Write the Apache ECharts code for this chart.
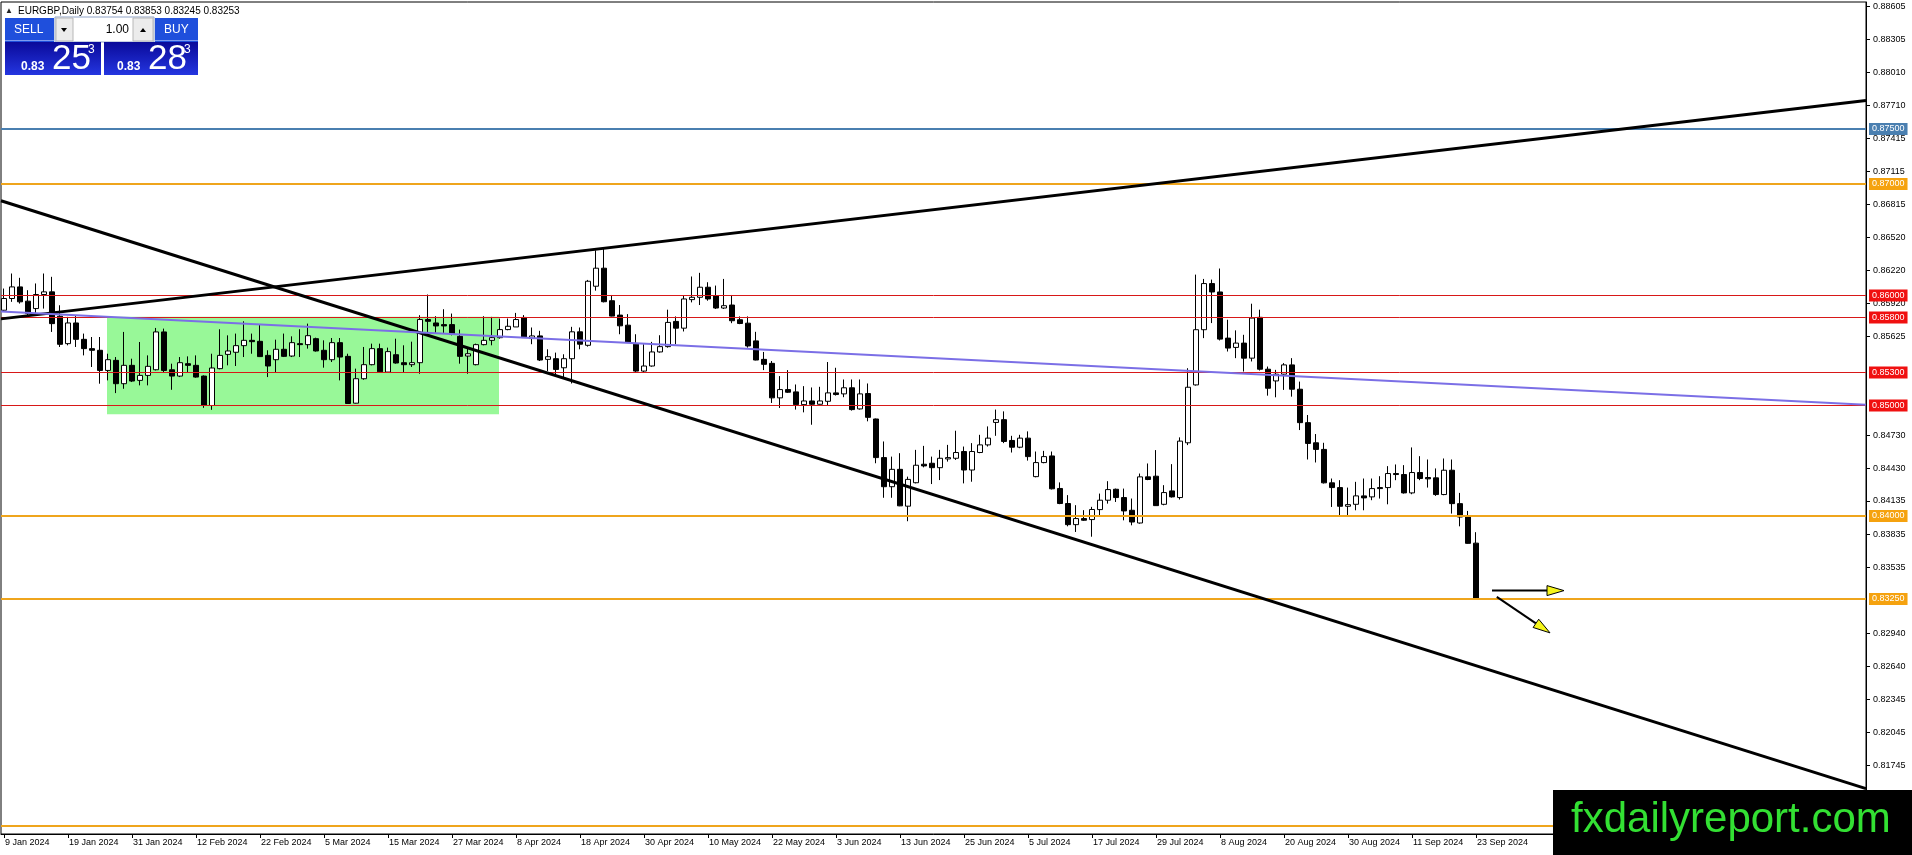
<!DOCTYPE html>
<html><head><meta charset="utf-8">
<script src="https://cdn.jsdelivr.net/npm/echarts@6.0.0/dist/echarts.min.js"></script>
<style>html,body{margin:0;padding:0;background:#fff}#c{width:1912px;height:855px}</style>
</head><body><div id="c"></div>
<script>
// ---- data (bar index 0 = 9 Jan 2024, one bar per trading day) ----
const opens=[0.85859,0.85965,0.86070,0.85941,0.85874,0.86001,0.86025,0.85805,0.85557,0.85744,0.85596,0.85512,0.85497,0.85315,0.85406,0.85195,0.85361,0.85225,0.85270,0.85321,0.85663,0.85321,0.85264,0.85376,0.85361,0.85264,0.84998,0.85331,0.85460,0.85479,0.85539,0.85587,0.85578,0.85451,0.85412,0.85506,0.85445,0.85557,0.85548,0.85602,0.85497,0.85412,0.85566,0.85442,0.85019,0.85240,0.85367,0.85512,0.85300,0.85457,0.85385,0.85367,0.85385,0.85775,0.85744,0.85729,0.85729,0.85623,0.85445,0.85367,0.85548,0.85587,0.85611,0.85684,0.85708,0.85794,0.85603,0.85627,0.85415,0.85421,0.85339,0.85421,0.85664,0.85542,0.86076,0.86239,0.85945,0.85815,0.85724,0.85552,0.85309,0.85355,0.85482,0.85530,0.85758,0.85697,0.85955,0.85976,0.86067,0.85991,0.85879,0.85906,0.85773,0.85742,0.85582,0.85415,0.85379,0.85067,0.85142,0.85121,0.85006,0.85039,0.85009,0.85036,0.85112,0.85103,0.85158,0.84967,0.85106,0.84876,0.84527,0.84264,0.84421,0.84088,0.84300,0.84467,0.84476,0.84436,0.84515,0.84521,0.84582,0.84415,0.84573,0.84642,0.84845,0.84870,0.84682,0.84621,0.84703,0.84355,0.84482,0.84542,0.84248,0.84112,0.83921,0.83976,0.83967,0.84057,0.84142,0.84241,0.84166,0.84051,0.83936,0.84353,0.84359,0.84105,0.84226,0.84166,0.84661,0.85184,0.85683,0.86100,0.86024,0.85607,0.85523,0.85562,0.85426,0.85795,0.85326,0.85220,0.85281,0.85365,0.85145,0.84843,0.84661,0.84601,0.84299,0.84256,0.84087,0.84105,0.84181,0.84172,0.84256,0.84256,0.84383,0.84374,0.84208,0.84392,0.84347,0.84344,0.84193,0.84413,0.84111,0.83990,0.83754];
const highs=[0.86055,0.86191,0.86152,0.86040,0.86101,0.86191,0.86161,0.85904,0.85799,0.85814,0.85648,0.85617,0.85617,0.85466,0.85436,0.85663,0.85421,0.85572,0.85451,0.85699,0.85693,0.85376,0.85436,0.85442,0.85451,0.85270,0.85466,0.85687,0.85632,0.85648,0.85759,0.85648,0.85729,0.85497,0.85593,0.85648,0.85623,0.85687,0.85738,0.85611,0.85587,0.85608,0.85608,0.85466,0.85331,0.85527,0.85557,0.85557,0.85521,0.85602,0.85542,0.85575,0.85814,0.86001,0.85805,0.85868,0.85829,0.85684,0.85527,0.85557,0.85805,0.85799,0.85784,0.85784,0.85835,0.85815,0.85703,0.85673,0.85506,0.85476,0.85461,0.85709,0.85703,0.86133,0.86400,0.86430,0.85997,0.85906,0.85824,0.85642,0.85552,0.85573,0.85633,0.85864,0.85803,0.85991,0.86164,0.86197,0.86112,0.86082,0.86142,0.85997,0.85803,0.85803,0.85664,0.85482,0.85400,0.85264,0.85318,0.85188,0.85173,0.85161,0.85167,0.85391,0.85339,0.85233,0.85233,0.85233,0.85197,0.84880,0.84673,0.84536,0.84567,0.84355,0.84597,0.84633,0.84536,0.84597,0.84642,0.84770,0.84627,0.84658,0.84733,0.84809,0.84961,0.84945,0.84724,0.84733,0.84764,0.84582,0.84588,0.84582,0.84303,0.84188,0.84097,0.84052,0.84082,0.84202,0.84314,0.84247,0.84247,0.84157,0.84383,0.84474,0.84595,0.84278,0.84468,0.84710,0.85335,0.86181,0.86142,0.86136,0.86236,0.85773,0.85677,0.85637,0.85918,0.85864,0.85350,0.85320,0.85381,0.85426,0.85214,0.84912,0.84740,0.84661,0.84338,0.84323,0.84256,0.84308,0.84338,0.84338,0.84359,0.84450,0.84465,0.84459,0.84619,0.84540,0.84510,0.84429,0.84519,0.84510,0.84208,0.84045,0.83853];
const lows=[0.85845,0.85935,0.85919,0.85814,0.85814,0.85874,0.85663,0.85527,0.85542,0.85527,0.85451,0.85346,0.85195,0.85225,0.85110,0.85149,0.85210,0.85180,0.85180,0.85315,0.85300,0.85140,0.85255,0.85300,0.85249,0.84977,0.84959,0.85325,0.85361,0.85355,0.85436,0.85466,0.85436,0.85255,0.85300,0.85436,0.85436,0.85436,0.85512,0.85485,0.85340,0.85391,0.85225,0.85013,0.85016,0.85231,0.85361,0.85300,0.85297,0.85376,0.85300,0.85346,0.85285,0.85648,0.85654,0.85654,0.85632,0.85376,0.85285,0.85361,0.85542,0.85542,0.85602,0.85678,0.85708,0.85612,0.85552,0.85400,0.85309,0.85264,0.85249,0.85197,0.85506,0.85530,0.86036,0.85930,0.85803,0.85642,0.85567,0.85300,0.85294,0.85349,0.85476,0.85521,0.85552,0.85667,0.85930,0.85906,0.85945,0.85870,0.85870,0.85742,0.85733,0.85521,0.85406,0.85318,0.85021,0.84976,0.85112,0.84961,0.84936,0.84824,0.85006,0.84997,0.85088,0.85073,0.84952,0.84961,0.84855,0.84476,0.84164,0.84164,0.84088,0.83952,0.84294,0.84439,0.84288,0.84324,0.84491,0.84506,0.84294,0.84309,0.84567,0.84627,0.84724,0.84658,0.84573,0.84612,0.84500,0.84349,0.84476,0.84239,0.84106,0.83906,0.83855,0.83955,0.83812,0.84006,0.84111,0.84126,0.83960,0.83915,0.83930,0.84323,0.84090,0.84096,0.84166,0.84148,0.84640,0.85178,0.85607,0.85743,0.85586,0.85486,0.85426,0.85305,0.85396,0.85314,0.85087,0.85072,0.85139,0.85078,0.84776,0.84510,0.84483,0.84293,0.84081,0.84006,0.83990,0.84051,0.84051,0.84142,0.84157,0.84105,0.84323,0.84202,0.84196,0.84323,0.84256,0.84181,0.84187,0.84021,0.83906,0.83749,0.83245];
const closes=[0.85965,0.86070,0.85935,0.85829,0.86001,0.86025,0.85738,0.85551,0.85744,0.85596,0.85512,0.85497,0.85315,0.85412,0.85195,0.85361,0.85219,0.85270,0.85352,0.85663,0.85315,0.85264,0.85385,0.85361,0.85255,0.84998,0.85337,0.85451,0.85491,0.85539,0.85587,0.85575,0.85440,0.85355,0.85506,0.85442,0.85566,0.85548,0.85629,0.85491,0.85412,0.85566,0.85436,0.85016,0.85240,0.85367,0.85512,0.85303,0.85485,0.85382,0.85367,0.85385,0.85775,0.85759,0.85717,0.85717,0.85642,0.85442,0.85466,0.85548,0.85587,0.85611,0.85684,0.85714,0.85775,0.85612,0.85627,0.85409,0.85439,0.85324,0.85421,0.85664,0.85552,0.86121,0.86239,0.85936,0.85806,0.85718,0.85570,0.85309,0.85355,0.85482,0.85530,0.85749,0.85697,0.85961,0.85976,0.86067,0.85961,0.85879,0.85900,0.85764,0.85739,0.85536,0.85409,0.85370,0.85067,0.85142,0.85118,0.85006,0.85039,0.85009,0.85039,0.85112,0.85097,0.85158,0.84961,0.85103,0.84891,0.84527,0.84264,0.84421,0.84091,0.84330,0.84458,0.84452,0.84436,0.84521,0.84527,0.84573,0.84415,0.84582,0.84642,0.84703,0.84870,0.84673,0.84621,0.84703,0.84536,0.84482,0.84536,0.84245,0.84112,0.83921,0.83976,0.83961,0.84058,0.84142,0.84238,0.84166,0.84045,0.83945,0.84353,0.84329,0.84093,0.84211,0.84172,0.84676,0.85163,0.85683,0.86100,0.86024,0.85598,0.85517,0.85562,0.85426,0.85788,0.85326,0.85154,0.85281,0.85365,0.85145,0.84843,0.84655,0.84601,0.84299,0.84256,0.84087,0.84102,0.84181,0.84163,0.84247,0.84247,0.84383,0.84374,0.84208,0.84392,0.84338,0.84335,0.84193,0.84413,0.84111,0.83990,0.83752,0.83253];
const xTickLabels=['9 Jan 2024','19 Jan 2024','31 Jan 2024','12 Feb 2024','22 Feb 2024','5 Mar 2024','15 Mar 2024','27 Mar 2024','8 Apr 2024','18 Apr 2024','30 Apr 2024','10 May 2024','22 May 2024','3 Jun 2024','13 Jun 2024','25 Jun 2024','5 Jul 2024','17 Jul 2024','29 Jul 2024','8 Aug 2024','20 Aug 2024','30 Aug 2024','11 Sep 2024','23 Sep 2024'];
const xTickBars=[0,8,16,24,32,40,48,56,64,72,80,88,96,104,112,120,128,136,144,152,160,168,176,184];
const yTickValues=[0.88605,0.88305,0.88010,0.87710,0.87415,0.87115,0.86815,0.86520,0.86220,0.85920,0.85625,0.84730,0.84430,0.84135,0.83835,0.83535,0.82940,0.82640,0.82345,0.82045,0.81745];
const levelValues=[0.87500,0.87000,0.86000,0.85800,0.85300,0.85000,0.84000,0.83250,0.81200];
const levelKinds=['blue','orange','red','red','red','red','orange','orange','orange'];
const risingLine=[[-0.375,0.85781],[232.75,0.87755]];
const fallingLine=[[-0.375,0.86849],[232.75,0.81535]];
const slopeLine=[[-0.375,0.85847],[232.75,0.85005]];
const rangeBox=[[12.875,0.85800],[61.875,0.84920]];
const arrowFlat=[[186.0,0.83325],[195.0,0.83325]];
const arrowDown=[[186.6,0.83268],[193.25,0.82943]];
const header='EURGBP,Daily 0.83754 0.83853 0.83245 0.83253';

// ---- styles ----
const FONT='Liberation Sans, Arial, sans-serif';
const X_MIN=-0.375, X_MAX=232.75;
const kindStyle={
  blue:{line:'#4a7fb0',box:'#4a7fb0',w:2},
  orange:{line:'#efa51c',box:'#f5a20f',w:2},
  red:{line:'#d81818',box:'#f01010',w:1}
};

const candleData=opens.map((o,i)=>[i,o,closes[i],lows[i],highs[i]]);
const levelData=levelValues.map((v,i)=>[X_MIN,v,X_MAX,i]);
const trendData=[risingLine,fallingLine,slopeLine].map(p=>[p[0][0],p[0][1],p[1][0],p[1][1]]);
const trendStyle=[{c:'#000',w:3},{c:'#000',w:3},{c:'#7b6fe6',w:2}];
const arrowData=[arrowFlat,arrowDown].map(p=>[p[0][0],p[0][1],p[1][0],p[1][1]]);

const chart=echarts.init(document.getElementById('c'),null,{renderer:'canvas'});
const mkGrad=()=>new echarts.graphic.LinearGradient(0,0,0,1,[{offset:0,color:'#0a0a9a'},{offset:1,color:'#2436e0'}]);

chart.setOption({
  animation:false,
  backgroundColor:'#fff',
  textStyle:{fontFamily:FONT},
  grid:{left:1,right:46,top:2,bottom:21,show:true,borderColor:'#000',borderWidth:1,backgroundColor:'#fff'},
  xAxis:{type:'value',min:X_MIN,max:X_MAX,
    axisLine:{show:true,onZero:false,lineStyle:{color:'#000',width:1}},
    splitLine:{show:false},
    axisTick:{show:true,customValues:xTickBars,length:4,lineStyle:{color:'#000'}},
    axisLabel:{customValues:xTickBars,formatter:v=>xTickLabels[xTickBars.indexOf(Math.round(v))]||'',
      align:'left',margin:4,padding:[0,0,0,1],fontSize:9,color:'#000',fontFamily:FONT}},
  yAxis:{type:'value',position:'right',min:0.81125,max:0.88645,scale:true,
    axisLine:{show:true,onZero:false,lineStyle:{color:'#000',width:1}},
    splitLine:{show:false},
    axisTick:{show:true,customValues:yTickValues,length:4,lineStyle:{color:'#000'}},
    axisLabel:{customValues:yTickValues,formatter:v=>v.toFixed(5),margin:7,fontSize:9,color:'#000',fontFamily:FONT}},
  series:[
    {type:'custom',z:1,silent:true,data:[[rangeBox[0][0],rangeBox[0][1],rangeBox[1][0],rangeBox[1][1]]],
      renderItem:(params,api)=>{
        const a=api.coord([api.value(0),api.value(1)]);
        const b=api.coord([api.value(2),api.value(3)]);
        return {type:'rect',shape:{x:a[0],y:a[1],width:b[0]-a[0],height:b[1]-a[1]},style:{fill:'#98f898'}};
      }},
    {type:'candlestick',z:2,silent:true,barWidth:5,data:candleData,encode:{x:0,y:[1,2,3,4]},
      itemStyle:{color:'#fff',color0:'#000',borderColor:'#000',borderColor0:'#000',borderWidth:1}},
    {type:'custom',z:3,silent:true,clip:false,data:levelData,
      renderItem:(params,api)=>{
        const v=api.value(1);
        const a=api.coord([api.value(0),v]);
        const b=api.coord([api.value(2),v]);
        const st=kindStyle[levelKinds[params.dataIndex]];
        const y=Math.round(a[1])+(st.w===1?0.5:0);
        return {type:'group',children:[
          {type:'line',shape:{x1:a[0],y1:y,x2:b[0],y2:y},style:{stroke:st.line,lineWidth:st.w}},
          {type:'text',x:b[0]+3,y:y,style:{text:v.toFixed(5),fill:'#fff',backgroundColor:st.box,
            padding:[2,3,1,3],fontSize:9,fontFamily:FONT,verticalAlign:'middle',align:'left'}}
        ]};
      }},
    {type:'custom',z:4,silent:true,data:trendData,
      renderItem:(params,api)=>{
        const a=api.coord([api.value(0),api.value(1)]);
        const b=api.coord([api.value(2),api.value(3)]);
        const st=trendStyle[params.dataIndex];
        return {type:'line',shape:{x1:a[0],y1:a[1],x2:b[0],y2:b[1]},style:{stroke:st.c,lineWidth:st.w}};
      }},
    {type:'custom',z:5,silent:true,data:arrowData,
      renderItem:(params,api)=>{
        const a=api.coord([api.value(0),api.value(1)]);
        const b=api.coord([api.value(2),api.value(3)]);
        const dx=b[0]-a[0],dy=b[1]-a[1],len=Math.sqrt(dx*dx+dy*dy),ux=dx/len,uy=dy/len;
        const hl=17,hw=5;
        const bx=b[0]-ux*hl,by=b[1]-uy*hl;
        return {type:'group',children:[
          {type:'line',shape:{x1:a[0],y1:a[1],x2:bx,y2:by},style:{stroke:'#000',lineWidth:2}},
          {type:'polygon',shape:{points:[[b[0],b[1]],[bx-uy*hw,by+ux*hw],[bx+uy*hw,by-ux*hw]]},
            style:{fill:'#f5f51a',stroke:'#000',lineWidth:1}}
        ]};
      }}
  ],
  graphic:[
    {type:'text',x:5,y:11,z:100,style:{text:'▲',fontSize:8,fill:'#222',verticalAlign:'middle'}},
    {type:'text',x:18,y:11,z:100,style:{text:header,fontSize:10,fontFamily:FONT,fill:'#000',verticalAlign:'middle'}},
    {type:'rect',z:100,shape:{x:5,y:18,width:49,height:24},style:{fill:'#1f4fdc'}},
    {type:'rect',z:100,shape:{x:5,y:40,width:49,height:1},style:{fill:'#7d9cf0'}},
    {type:'text',z:101,x:14,y:30,style:{text:'SELL',fontSize:12,fontFamily:FONT,fill:'#fff',verticalAlign:'middle'}},
    {type:'rect',z:100,shape:{x:55,y:17,width:99,height:25},style:{fill:'#fff',stroke:'#8fa3c8',lineWidth:1}},
    {type:'rect',z:100,shape:{x:56,y:18,width:17,height:23},style:{fill:'#ececec',stroke:'#b8b8b8'}},
    {type:'polygon',z:101,shape:{points:[[61,28],[67,28],[64,32]]},style:{fill:'#000'}},
    {type:'rect',z:100,shape:{x:133,y:18,width:20,height:23},style:{fill:'#ececec',stroke:'#b8b8b8'}},
    {type:'polygon',z:101,shape:{points:[[140,32],[146,32],[143,28]]},style:{fill:'#000'}},
    {type:'text',z:101,x:129,y:30,style:{text:'1.00',fontSize:12,fontFamily:FONT,fill:'#000',align:'right',verticalAlign:'middle'}},
    {type:'rect',z:100,shape:{x:155,y:18,width:43,height:24},style:{fill:'#1f4fdc'}},
    {type:'rect',z:100,shape:{x:155,y:40,width:43,height:1},style:{fill:'#7d9cf0'}},
    {type:'text',z:101,x:164,y:30,style:{text:'BUY',fontSize:12,fontFamily:FONT,fill:'#fff',verticalAlign:'middle'}},
    {type:'rect',z:100,shape:{x:5,y:42,width:96,height:33},style:{fill:mkGrad()}},
    {type:'rect',z:100,shape:{x:104,y:42,width:94,height:33},style:{fill:mkGrad()}},
    {type:'text',z:101,x:21,y:67,style:{text:'0.83',fontSize:12,fontWeight:'bold',fontFamily:FONT,fill:'#fff',verticalAlign:'middle'}},
    {type:'text',z:101,x:52,y:59,style:{text:'25',fontSize:35,fontFamily:'Liberation Sans Narrow, Liberation Sans',fill:'#fff',verticalAlign:'middle'}},
    {type:'text',z:101,x:88,y:50,style:{text:'3',fontSize:12,fontFamily:FONT,fill:'#fff',verticalAlign:'middle'}},
    {type:'text',z:101,x:117,y:67,style:{text:'0.83',fontSize:12,fontWeight:'bold',fontFamily:FONT,fill:'#fff',verticalAlign:'middle'}},
    {type:'text',z:101,x:148,y:59,style:{text:'28',fontSize:35,fontFamily:'Liberation Sans Narrow, Liberation Sans',fill:'#fff',verticalAlign:'middle'}},
    {type:'text',z:101,x:184,y:50,style:{text:'3',fontSize:12,fontFamily:FONT,fill:'#fff',verticalAlign:'middle'}},
    {type:'rect',z:100,shape:{x:1553,y:790,width:359,height:65},style:{fill:'#000'}},
    {type:'text',z:101,x:1571,y:820,style:{text:'fxdailyreport.com',fontSize:42,fontFamily:FONT,fill:'#33e033',verticalAlign:'middle'}}
  ]
});
</script>
</body></html>
